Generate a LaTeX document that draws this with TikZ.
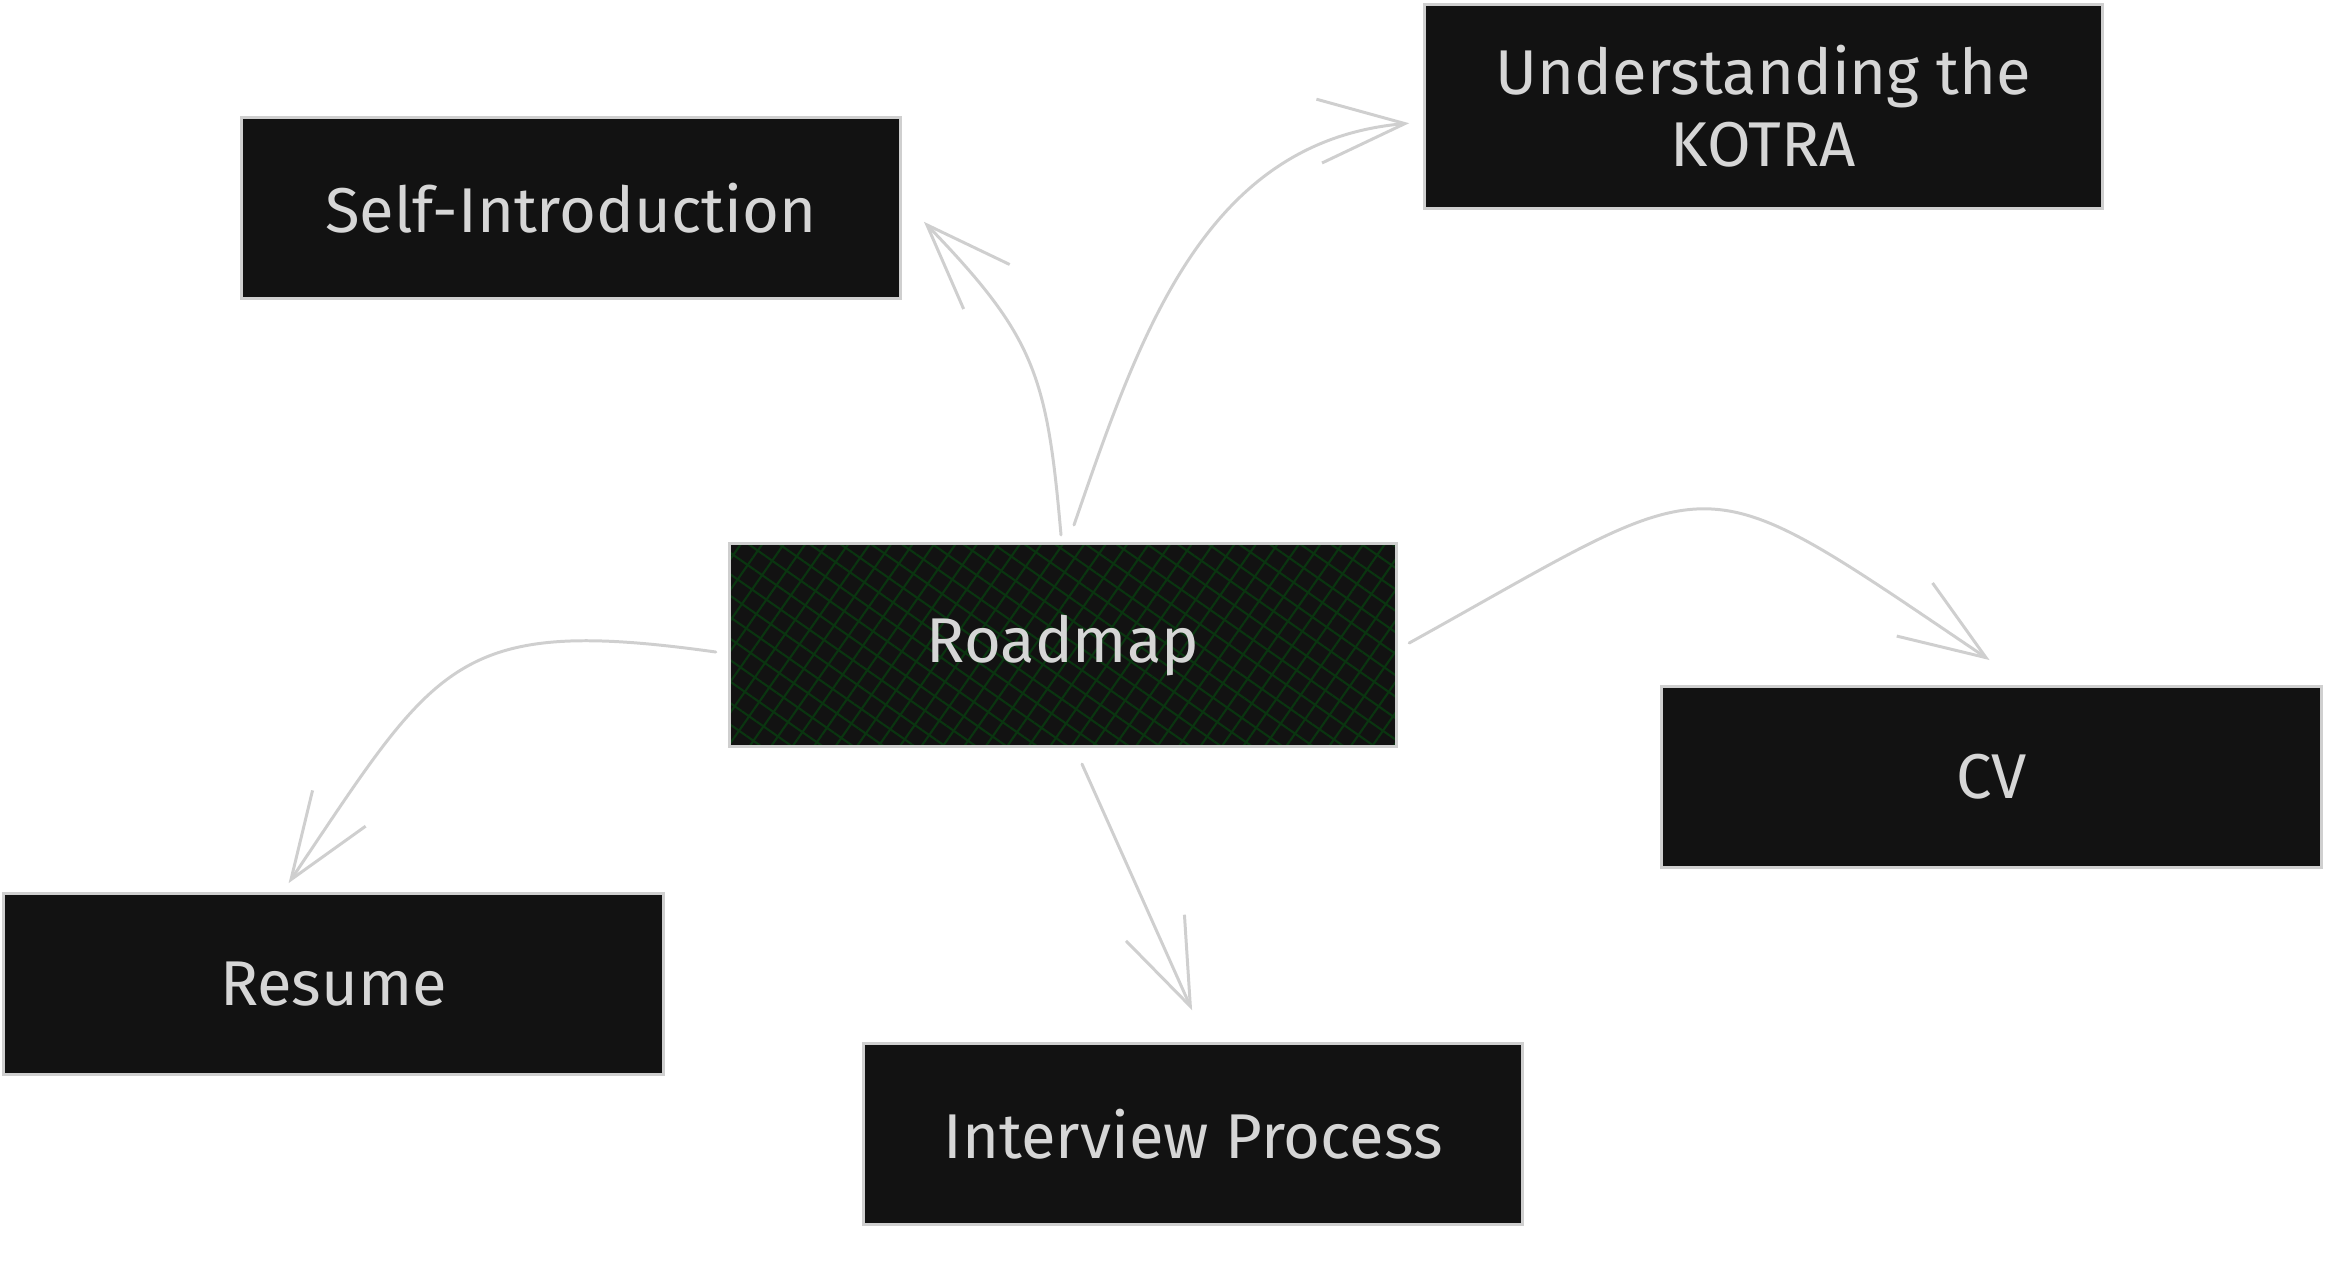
\documentclass[tikz,border=0pt]{standalone}
\usepackage{fontspec}
\setmainfont{Fira Sans}
\usetikzlibrary{positioning,calc,arrows.meta,patterns.meta}

\definecolor{boxfill}{HTML}{121212}
\definecolor{boxline}{HTML}{CFCFCF}
\definecolor{inkgray}{HTML}{D6D6D6}
\definecolor{hatchgreen}{HTML}{0A3510}

\tikzstyle{topic}=[draw=boxline,fill=boxfill,text=inkgray,line width=0.85pt,inner sep=0pt,minimum width=6.59cm,minimum height=1.81cm,align=center,font=\fontsize{18}{20.5}\selectfont]
\tikzstyle{hatched}=[fill=none,preaction={fill=boxfill},preaction={pattern={Lines[angle=55,distance=5pt,line width=0.6pt]},pattern color=hatchgreen},preaction={pattern={Lines[angle=-35,distance=5pt,line width=0.6pt]},pattern color=hatchgreen}]
\tikzstyle{link}=[draw=boxline,line width=0.85pt,line cap=round,-{Straight Barb[length=0.86cm,width=0.64cm]}]
\newcommand{\topic}[3]{\node[topic,#3] (#1) {#2};}
\newcommand{\link}[3]{\draw[link] #1 to[#2] #3;}

\begin{document}
\begin{tikzpicture}[x=0.01cm,y=-0.01cm]
    \useasboundingbox (0,0) rectangle (2342,1265);
    % centre box and the five topics round it
    \topic{road}{Roadmap}{hatched,minimum width=6.67cm,minimum height=2.03cm,at={(1063,645)}}
    \topic{kotra}{Understanding the\\KOTRA}{minimum width=6.77cm,minimum height=2.04cm,above right=3.32cm and 0.25cm of road}
    \topic{self}{Self-Introduction}{above left=2.42cm and -1.74cm of road}
    \topic{cv}{CV}{below right=-0.63cm and 2.62cm of road}
    \topic{resume}{Resume}{below left=1.44cm and 0.63cm of road}
    \topic{interview}{Interview Process}{below=2.94cm of road,xshift=1.30cm}

    \link{($(road.north)+(-2,-7)$)}{out=95,in=-46,looseness=1.2}{($(self.east)+(22,14)$)}
    \link{($(road.north)+(11,-17)$)}{out=71,in=185}{($(kotra.west)+(-14,17)$)}
    \link{($(road.east)+(11,-2)$)}{out=29,in=146,looseness=1.6}{($(cv.north)+(-2,-25)$)}
    \link{($(road.west)+(-12,7)$)}{out=172,in=56,looseness=1.4}{($(resume.north)+(-45,-9)$)}
    \link{($(road.south)+(19,16)$)}{}{($(interview.north)+(-1,-32)$)}
\end{tikzpicture}
\end{document}
